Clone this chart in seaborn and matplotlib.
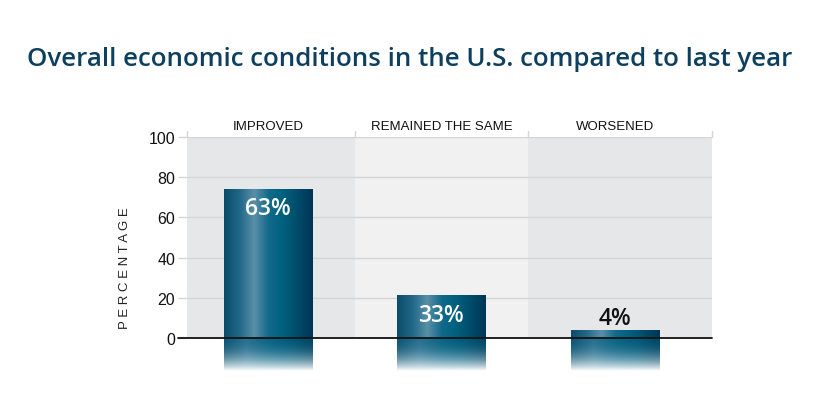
import numpy as np
import pandas as pd
import matplotlib
import matplotlib.pyplot as plt
import matplotlib.transforms as mtransforms
from matplotlib.colors import LinearSegmentedColormap
import seaborn as sns

# Data
categories = ["IMPROVED", "REMAINED THE SAME", "WORSENED"]
bar_heights = [74, 21, 3.5]
bar_labels = ["63%", "33%", "4%"]
y_ticks = [0, 20, 40, 60, 80, 100]

TITLE = "Overall economic conditions in the U.S. compared to last year"
TITLE_COLOR = "#0d3f5f"
PANEL_COLORS = ["#e6e7e8", "#f1f1f2", "#e6e7e8"]
GRID_COLOR = "#d3d5d6"

sns.set_theme(style="white")
plt.rcParams["font.family"] = ["Liberation Sans", "DejaVu Sans"]

df = pd.DataFrame({"category": categories, "value": bar_heights, "label": bar_labels})

fig = plt.figure(figsize=(8.23, 4.10), dpi=100)
fig.patch.set_facecolor("white")
ax = fig.add_axes([187 / 823, 1 - 373 / 410, 525 / 823, 235 / 410])
ax.set_facecolor("white")

XMIN, XMAX = -0.467, 2.56

# column backgrounds
edges = [XMIN, 0.5, 1.5, XMAX]
for i, c in enumerate(PANEL_COLORS):
    ax.fill_between([edges[i], edges[i + 1]], 0, 100, color=c, lw=0, zorder=0)

# gridlines
ax.hlines(y_ticks[1:], XMIN, XMAX, color=GRID_COLOR, lw=1, zorder=1)

sns.barplot(data=df, x="category", y="value", width=0.51, color="#005f80",
            saturation=1, ax=ax, zorder=2)

# horizontal gradient for the bars
grad = LinearSegmentedColormap.from_list(
    "bar", [(0.0, "#0b4b6a"), (0.18, "#23698a"), (0.34, "#5a8fa8"),
            (0.5, "#126a8c"), (0.65, "#00627f"), (0.85, "#004868"), (1.0, "#003655")])
row = grad(np.linspace(0, 1, 200))[None, :, :]
refl_grad = LinearSegmentedColormap.from_list(
    "refl", ["#0b5575", "#2a7191", "#0a6585", "#005a7a", "#004565"])
refl_row = refl_grad(np.linspace(0, 1, 200))[None, :, :]

for p in ax.patches:
    x0, w, h = p.get_x(), p.get_width(), p.get_height()
    p.set_alpha(0)
    ax.imshow(row, extent=(x0, x0 + w, 0, h), aspect="auto", zorder=3,
              interpolation="bilinear")
    # reflection fading to white
    refl = np.repeat(refl_row, 80, axis=0).copy()
    t = np.linspace(0.0, 1.0, 80)
    refl[:, :, 3] = (1 - t ** 2.2)[:, None]
    ax.imshow(refl, extent=(x0, x0 + w, -16.5, 0), aspect="auto", zorder=3,
              interpolation="bilinear")

# value labels
for i, (v, lab) in enumerate(zip(bar_heights, bar_labels)):
    if v > 10:
        ax.text(i, v - 9.5, lab, ha="center", va="center", color="white",
                fontsize=16.5, fontweight="semibold", family=["Open Sans", "DejaVu Sans"], zorder=5)
    else:
        ax.text(i, v + 6.5, lab, ha="center", va="center", color="#111111",
                fontsize=16.5, fontweight="semibold", family=["Open Sans", "DejaVu Sans"], zorder=5)

# zero line extending past the left edge
trans = mtransforms.blended_transform_factory(fig.transFigure, ax.transData)
ax.plot([178 / 823, 712 / 823], [0, 0], color="#111111", lw=1.3, transform=trans,
        clip_on=False, zorder=6)

# category labels and small separators on top
for i, cat in enumerate(categories):
    ax.text(i, 102.5, cat, ha="center", va="bottom", fontsize=9.5, color="#111111",
            family=["Liberation Sans Narrow", "Liberation Sans", "DejaVu Sans"])
for xb in edges:
    ax.plot([xb, xb], [100, 103], color=GRID_COLOR, lw=1, clip_on=False, zorder=1)

ax.set_xlim(XMIN, XMAX)
ax.set_ylim(-17, 100)
ax.set_yticks(y_ticks)
ax.set_yticklabels([str(t) for t in y_ticks], fontsize=11.5, color="#111111")
ax.tick_params(axis="y", length=6.5, width=1, color=GRID_COLOR, pad=2, left=True)
ax.set_xticks([])
ax.set_xlabel("")
ax.set_ylabel("")
for s in ax.spines.values():
    s.set_visible(False)

fig.text(125 / 823, 1 - 268 / 410, " ".join("PERCENTAGE"), rotation=90,
         ha="center", va="center", fontsize=9.5, color="#222222")

fig.text(410 / 823, 1 - 60 / 410, TITLE, ha="center", va="center", fontsize=18.6,
         fontweight="semibold", color=TITLE_COLOR, family=["Open Sans", "DejaVu Sans"])

fig.savefig("out.png", dpi=100)
